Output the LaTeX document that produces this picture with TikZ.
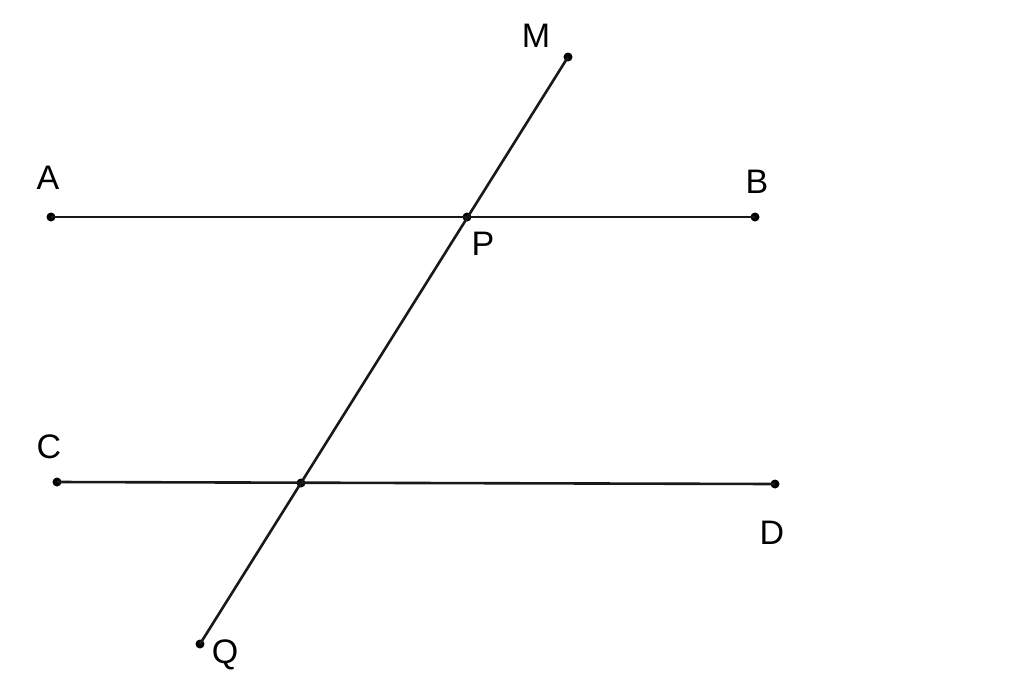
\documentclass[tikz,border=0pt]{standalone}
\usepackage{fontspec}
\setmainfont{Liberation Sans}
\begin{document}
\begin{tikzpicture}[x=1pt,y=-1pt,
  seg/.style={line width=2.6pt, draw=black!90},
  pt/.style={circle, fill=black, inner sep=0pt, minimum size=9pt},
  lbl/.style={inner sep=0pt, font=\fontsize{34}{34}\selectfont}]
\useasboundingbox (0,0) rectangle (1024,683);
\node[pt] (A) at (51,217) {};
\node[pt] (B) at (755,217) {};
\node[pt] (P) at (467,217) {};
\node[pt] (M) at (568,57) {};
\node[pt] (Q) at (200,644) {};
\node[pt] (C) at (57,482) {};
\node[pt] (D) at (775,484) {};
\node[pt] (X) at (301,483) {};
\draw[seg] (A.center) -- (B.center);
\draw[seg] (C.center) -- (D.center);
\draw[seg] (M.center) -- (Q.center);
\node[lbl] (lA) at (48,178) {A};
\node[lbl] (lB) at (757,182) {B};
\node[lbl] (lP) at (483,244) {P};
\node[lbl] (lM) at (536,36) {M};
\node[lbl] (lC) at (49,447) {C};
\node[lbl] (lD) at (772,533) {D};
\node[lbl] (lQ) at (225,655) {Q};
\end{tikzpicture}
\end{document}
